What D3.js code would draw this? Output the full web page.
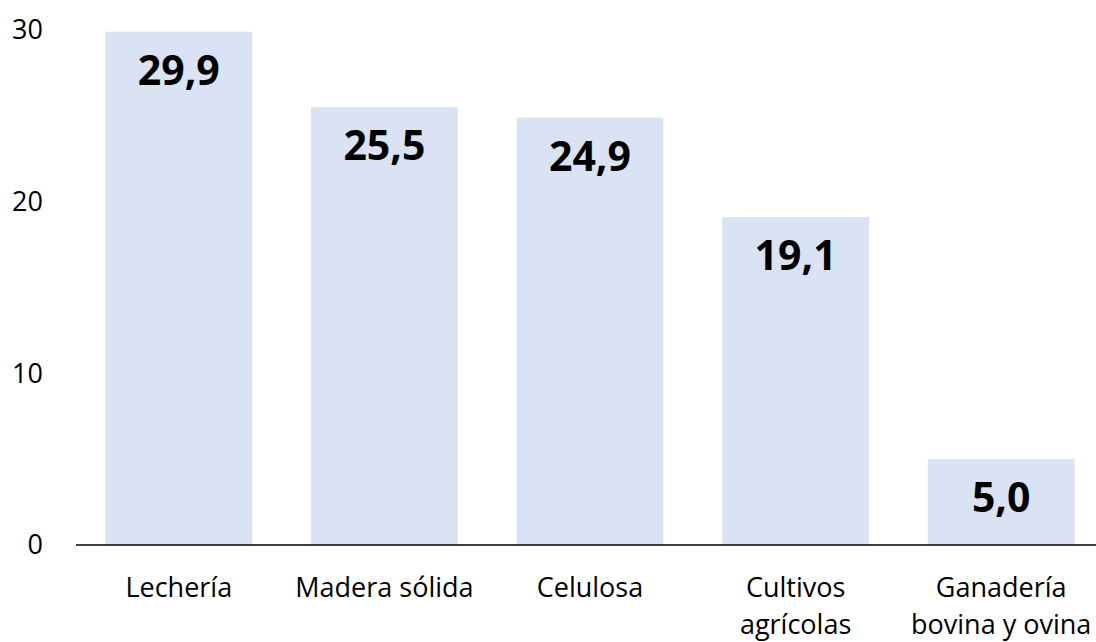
<!DOCTYPE html>
<html>
<head>
<meta charset="utf-8">
<script src="https://d3js.org/d3.v7.min.js"></script>
<style>
  body { margin: 0; background: #fff; }
  svg text { font-family: "Open Sans", "Noto Sans", sans-serif; fill: #000; }
  .tick-label { font-size: 27px; }
  .cat-label { font-size: 27px; }
  .val-label { font-size: 41px; font-weight: bold; }
</style>
</head>
<body>
<svg id="chart"></svg>
<script>
  // data
  var categories = [["Lechería"], ["Madera sólida"], ["Celulosa"], ["Cultivos", "agrícolas"], ["Ganadería", "bovina y ovina"]];
  var values = [29.9, 25.5, 24.9, 19.1, 5.0];
  var yTicks = [0, 10, 20, 30];

  var width = 1096, height = 642;
  var svg = d3.select("#chart").attr("width", width).attr("height", height);

  var x = d3.scaleBand()
      .domain(d3.range(values.length))
      .range([76, 1104])
      .paddingInner(0.2857)
      .paddingOuter(0.1429);

  var y = d3.scaleLinear().domain([0, 30]).range([545, 30]);

  // y tick labels (no axis line)
  svg.append("g").selectAll("text")
      .data(yTicks)
      .enter().append("text")
        .attr("class", "tick-label")
        .attr("x", 43)
        .attr("y", function(d) { return y(d); })
        .attr("dy", "0.35em")
        .attr("text-anchor", "end")
        .text(function(d) { return d; });

  // bars
  svg.append("g").selectAll("rect")
      .data(values)
      .enter().append("rect")
        .attr("x", function(d, i) { return x(i); })
        .attr("y", function(d) { return y(d); })
        .attr("width", x.bandwidth())
        .attr("height", function(d) { return y(0) - y(d); })
        .attr("fill", "#dae3f3");

  // value labels
  svg.append("g").selectAll("text")
      .data(values)
      .enter().append("text")
        .attr("class", "val-label")
        .attr("x", function(d, i) { return x(i) + x.bandwidth() / 2; })
        .attr("y", function(d) { return y(d) + 53; })
        .attr("text-anchor", "middle")
        .text(function(d) { return d.toFixed(1).replace(".", ","); });

  // baseline
  svg.append("line")
      .attr("x1", 76).attr("x2", width)
      .attr("y1", y(0)).attr("y2", y(0))
      .attr("stroke", "#000")
      .attr("stroke-width", 1.5);

  // category labels
  var cat = svg.append("g").selectAll("text")
      .data(categories)
      .enter().append("text")
        .attr("class", "cat-label")
        .attr("x", function(d, i) { return x(i) + x.bandwidth() / 2; })
        .attr("y", 597)
        .attr("text-anchor", "middle");

  cat.selectAll("tspan")
      .data(function(d) { return d; })
      .enter().append("tspan")
        .attr("x", function() { return this.parentNode.getAttribute("x"); })
        .attr("dy", function(d, i) { return i ? 37 : 0; })
        .text(function(d) { return d; });
</script>
</body>
</html>
